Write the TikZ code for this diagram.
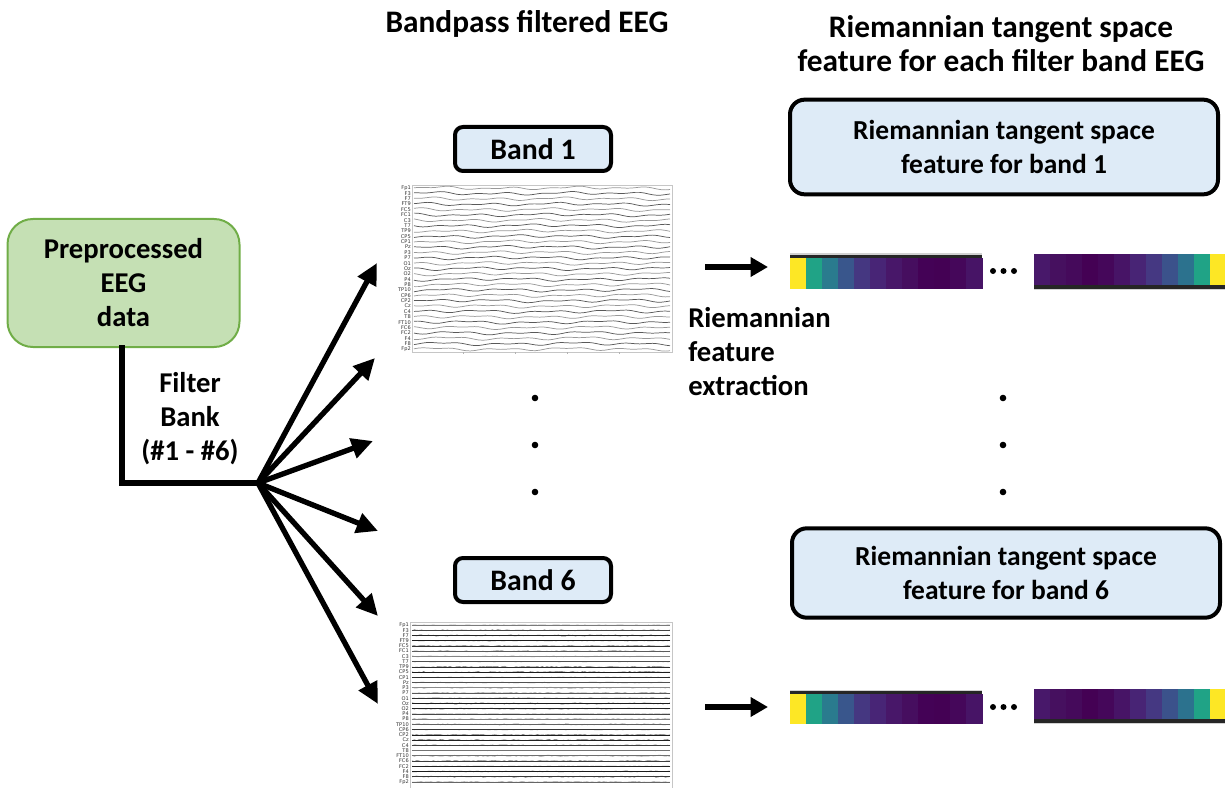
\documentclass[tikz,border=0pt]{standalone}
\usepackage{fontspec}
\setmainfont{Carlito}
\newfontfamily\plotfont{DejaVu Sans}
\usetikzlibrary{arrows.meta}
\definecolor{bandfill}{HTML}{DEEBF7}
\definecolor{prefill}{HTML}{C5E0B4}
\definecolor{predraw}{HTML}{70AD47}
\tikzset{
  lbl/.style={font=\fontsize{21.5}{25.5}\selectfont\bfseries, inner sep=0pt, align=center},
  ttl/.style={lbl, font=\fontsize{23.5}{25.5}\selectfont\bfseries},
  bandbox/.style={lbl, font=\fontsize{22.3}{25.5}\selectfont\bfseries, draw=black, fill=bandfill,
    line width=3pt, rounded corners=6pt, minimum width=117pt, minimum height=33pt},
  featbox/.style={lbl, font=\fontsize{20.6}{25.5}\selectfont\bfseries, draw=black, fill=bandfill,
    line width=3pt, rounded corners=11pt, minimum width=321pt},
  prebox/.style={lbl, draw=predraw, fill=prefill, line width=1.5pt, rounded corners=19pt,
    minimum width=174pt, minimum height=96pt},
  trunk/.style={line width=4.4pt, line cap=rect},
  fan/.style={line width=4pt, -{Triangle[length=16pt,width=15pt]}},
  toarrow/.style={line width=4pt, -{Triangle[length=13pt,width=14pt]}},
  chlab/.style={font=\plotfont\fontsize{3.8}{4}\selectfont, inner sep=0pt, anchor=east, text=black!80},
  frame/.style={draw=gray!45, line width=0.5pt},
  smoothtrace/.style={line width=0.55pt},
  vdot/.style={fill=black},
}
\begin{document}
\begin{tikzpicture}[x=0.75pt, y=-0.75pt]
\useasboundingbox (0,0) rectangle (1225,788);

% column titles
\node[ttl] (ttlA) at (527,24) {Bandpass filtered EEG};
\node[ttl] (ttlB) at (1001,44) {Riemannian tangent space\\feature for each filter band EEG};

% input data
\node[prebox] (pre) at (123.5,283) {Preprocessed\\EEG\\data};
\node[lbl] (fb) at (190,419) {Filter\\Bank\\(\#1 - \#6)};

% filter bank split
\coordinate (J) at (258,483);
\coordinate (down) at (122,483);
\draw[trunk] (pre.south -| down) -- (down) -- (J);
\coordinate (t1) at (377,263);
\coordinate (t2) at (375,358);
\coordinate (t3) at (373,441);
\coordinate (t4) at (378,531);
\coordinate (t5) at (378,616);
\coordinate (t6) at (378,704);
\foreach \t in {t1,t2,t3,t4,t5,t6}
  \draw[fan] (J) -- (\t);

% band labels
\node[bandbox] (b1) at (533,149) {Band 1};
\node[bandbox] (b6) at (533,580) {Band 6};

% band 1 signals
\draw[frame] (412,185) rectangle (672,352);
\foreach \i/\lab in {0/Fp1,1/F3,2/F7,3/FT9,4/FC5,5/FC1,6/C3,7/T7,8/TP9,9/CP5,10/CP1,
    11/Pz,12/P3,13/P7,14/O1,15/Oz,16/O2,17/P4,18/P8,19/TP10,20/CP6,21/CP2,22/Cz,
    23/C4,24/T8,25/FT10,26/FC6,27/FC2,28/F4,29/F8,30/Fp2} {
  \pgfmathsetmacro\yy{188+\i*5.37}
  \pgfmathtruncatemacro\shade{40+25*mod(\i,2)}
  \draw[smoothtrace, black!\shade] plot[domain=414:670, samples=60, smooth]
    (\x, {\yy + 0.9*sin(5.5*\x+37*\i) + 0.7*sin(11*\x+71*\i) + 0.5*sin(2.3*\x+13*\i)});
  \node[chlab] at (411,\yy) {\lab};
}
\foreach \tx in {463,515,567,619}
  \draw[gray!60, line width=0.4pt] (\tx,352) -- (\tx,354);

% band 6 signals
\pgfmathsetseed{7}
\draw[frame] (410,622) rectangle (672,790);
\foreach \i/\lab in {0/Fp1,1/F3,2/F7,3/FT9,4/FC5,5/FC1,6/C3,7/T7,8/TP9,9/CP5,10/CP1,
    11/Pz,12/P3,13/P7,14/O1,15/Oz,16/O2,17/P4,18/P8,19/TP10,20/CP6,21/CP2,22/Cz,
    23/C4,24/T8,25/FT10,26/FC6,27/FC2,28/F4,29/F8,30/Fp2} {
  \pgfmathsetmacro\yy{625+\i*5.23}
  \pgfmathsetmacro\amp{0.15+0.55*abs(sin(53*\i))}
  \pgfmathtruncatemacro\shade{45+45*abs(sin(29*\i+10))}
  \draw[line width=0.45pt, black!\shade] (412,\yy) -- (670,\yy);
  \draw[line width=0.35pt, black!\shade, opacity=0.7] plot[domain=412:670, samples=110] (\x, {\yy + \amp*rand});
  \node[chlab] at (409,\yy) {\lab};
}

% continuation dots
\foreach \yd in {398,445,492} {
  \fill[vdot] (535,\yd) circle (3.3);
  \fill[vdot] (1003,\yd) circle (3.3);
}

% feature extraction step
\node[lbl, align=left, anchor=west] (rfe) at (688,352) {Riemannian\\feature\\extraction};
\coordinate (r1s) at (705,267);
\coordinate (r1e) at (768,267);
\coordinate (r6s) at (705,707);
\coordinate (r6e) at (768,707);
\draw[toarrow] (r1s) -- (r1e);
\draw[toarrow] (r6s) -- (r6e);

% feature vectors
\foreach \yt/\ya/\yb in {255/258/289, 691/694/724} {
  \fill[black!85] (790,\yt) rectangle (982,\ya+0.5);
  \fill[gray!35] (790,\yt-1.5) rectangle (982,\yt);
  \foreach \c [count=\k from 0] in {FDE725,20A386,2A7B8E,39568C,453781,482576,
      481769,460E5F,440256,440154,45075A,471466} {
    \definecolor{cell}{HTML}{\c}
    \fill[cell] (790+\k*16,\ya) rectangle (806.5+\k*16,\yb);
  }
  \foreach \xd in {993,1003.5,1014}
    \fill[vdot] (\xd,\ya+13) circle (3);
}
\foreach \ya/\yb in {254/285, 689/719} {
  \foreach \c [count=\k from 0] in {48186A,46105F,450A5B,440154,45075A,471466,
      482475,453882,3B528B,2C728E,20A386,FDE725} {
    \definecolor{cell}{HTML}{\c}
    \fill[cell] (1034+\k*16,\ya) rectangle (1050.5+\k*16,\yb);
  }
  \fill[black!85] (1034,\yb) rectangle (1225,\yb+3.5);
  \fill[gray!35] (1034,\yb+3.5) rectangle (1225,\yb+5);
}

% tangent space feature boxes
\node[featbox, minimum height=71pt] (f1) at (1004,147) {Riemannian tangent space\\feature for band 1};
\node[featbox, minimum height=67pt] (f6) at (1006,573) {Riemannian tangent space\\feature for band 6};
\end{tikzpicture}
\end{document}
